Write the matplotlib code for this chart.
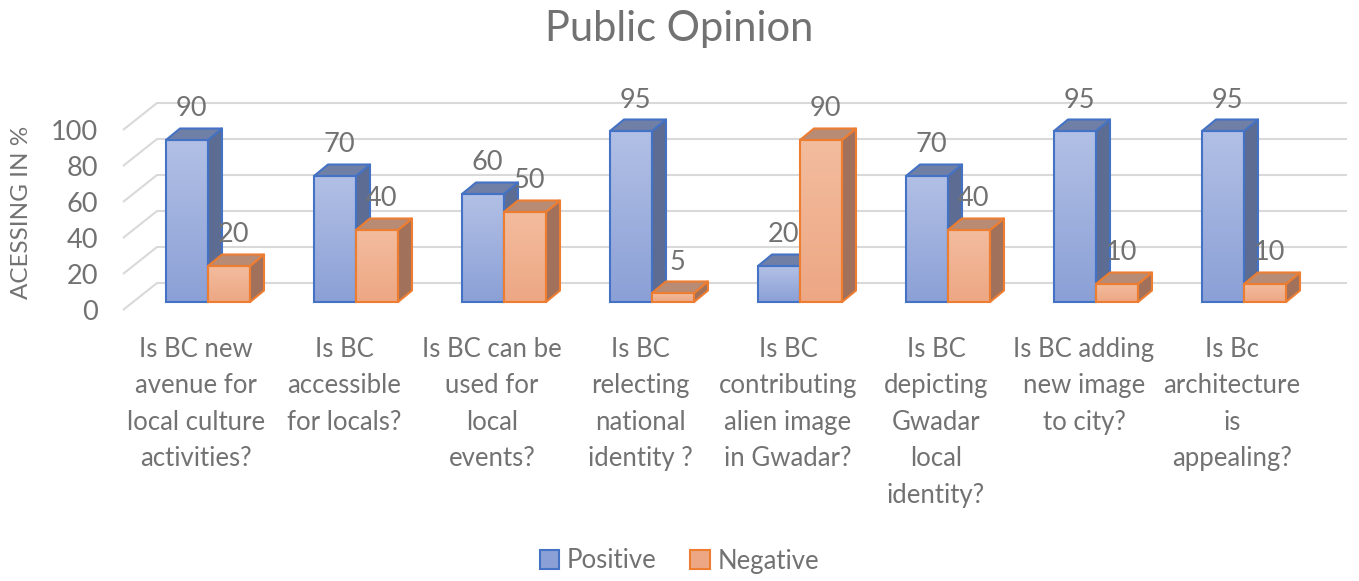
import numpy as np
import matplotlib
matplotlib.use("Agg")
import matplotlib.pyplot as plt
from matplotlib.patches import Polygon, Patch
from matplotlib.colors import LinearSegmentedColormap

plt.rcParams["font.family"] = ["Lato", "DejaVu Sans"]

# Data
categories = [
    "Is BC new\navenue for\nlocal culture\nactivities?",
    "Is BC\naccessible\nfor locals?",
    "Is BC can be\nused for\nlocal\nevents?",
    "Is BC\nrelecting\nnational\nidentity ?",
    "Is BC\ncontributing\nalien image\nin Gwadar?",
    "Is BC\ndepicting\nGwadar\nlocal\nidentity?",
    "Is BC adding\nnew image\nto city?",
    "Is Bc\narchitecture\nis\nappealing?",
]
positive = [90, 70, 60, 95, 20, 70, 95, 95]
negative = [20, 40, 50, 5, 90, 40, 10, 10]
y_ticks = [0, 20, 40, 60, 80, 100]

TEXT = "#727272"
GRID = "#d9d9d9"

# pixel layout -> data units (x: one group = 148 px, y: one unit = 1.8 px)
W, H = 1359, 581
X0, STEP = 208, 148
BASE, UNIT = 302, 1.8

def px_x(p):
    return (p - X0) / STEP

def px_dy(p):
    return p / UNIT

bar_w = 42 / STEP
bar_dx, bar_dy = 14 / STEP, px_dy(11.5)

series = [
    dict(vals=positive, off=-bar_w, edge="#4472c4", top_c="#c9d3ee", bot_c="#8ba0d6",
         side="#5d6c92", lid="#6f7fa6", label="Positive", z=3),
    dict(vals=negative, off=0.0, edge="#ed7d31", top_c="#f6c9ad", bot_c="#eda784",
         side="#a2715b", lid="#b88b74", label="Negative", z=6),
]

fig = plt.figure(figsize=(W / 100, H / 100), dpi=100)
ax = fig.add_axes([0, 0, 1, 1])
ax.axis("off")

# back wall gridlines with slanted left ends
x_front, x_back, x_end = px_x(123), px_x(157), px_x(1347)
for v in y_ticks:
    yb = v + px_dy(19)
    yf = v - px_dy(8)
    ax.plot([x_front, x_back, x_end], [yf, yb, yb], color=GRID, lw=1.5,
            zorder=1, solid_capstyle="butt")
    ax.text(px_x(98), v - px_dy(11), str(v), ha="right", va="center",
            fontsize=19.5, color=TEXT)

x = np.arange(len(categories))
for s in series:
    cmap = LinearSegmentedColormap.from_list("g", [s["bot_c"], s["top_c"]])
    grad = np.linspace(0, 1, 100).reshape(-1, 1)
    for xi, v in zip(x, s["vals"]):
        x0 = xi + s["off"]
        x1 = x0 + bar_w
        ax.imshow(grad, extent=(x0, x1, 0, v), origin="lower", aspect="auto",
                  cmap=cmap, vmin=0, vmax=1.6, zorder=s["z"])
        side = [(x1, 0), (x1 + bar_dx, bar_dy), (x1 + bar_dx, v + bar_dy), (x1, v)]
        lid = [(x0, v), (x0 + bar_dx, v + bar_dy), (x1 + bar_dx, v + bar_dy), (x1, v)]
        ax.add_patch(Polygon(side, closed=True, facecolor=s["side"], edgecolor=s["edge"],
                             lw=1.5, joinstyle="round", zorder=s["z"]))
        ax.add_patch(Polygon(lid, closed=True, facecolor=s["lid"], edgecolor=s["edge"],
                             lw=1.5, joinstyle="round", zorder=s["z"]))
        ax.text((x0 + x1) / 2 + bar_dx / 3, v + px_dy(31), str(v), ha="center",
                va="center", fontsize=19.5, color=TEXT, zorder=10)
    ax.bar(x + s["off"], s["vals"], width=bar_w, align="edge", facecolor="none",
           edgecolor=s["edge"], lw=1.5, zorder=s["z"] + 0.5)

ax.set_xlim(px_x(0), px_x(W))
ax.set_ylim(-px_dy(H - BASE), px_dy(BASE))

for xi, lab in zip(x, categories):
    ax.text(xi - 12 / STEP, -px_dy(35), lab, ha="center", va="top",
            fontsize=18.5, color=TEXT, linespacing=1.57)

ax.text(px_x(22), 50, "ACESSING IN %", rotation=90, ha="center", va="center",
        fontsize=17.5, color=TEXT)

fig.text(0.5, 1 - 29 / H, "Public Opinion", ha="center", va="center",
         fontsize=30, color=TEXT)

handles = [Patch(facecolor=s["bot_c"], edgecolor=s["edge"], lw=1.5, label=s["label"])
           for s in series]
fig.legend(handles=handles, loc="center", bbox_to_anchor=(0.5, 1 - 561 / H), ncol=2,
           frameon=False, fontsize=18.5, labelcolor=TEXT, handlelength=0.75,
           handleheight=0.75, handletextpad=0.3, columnspacing=1.3)

fig.savefig("out.png", dpi=100)
